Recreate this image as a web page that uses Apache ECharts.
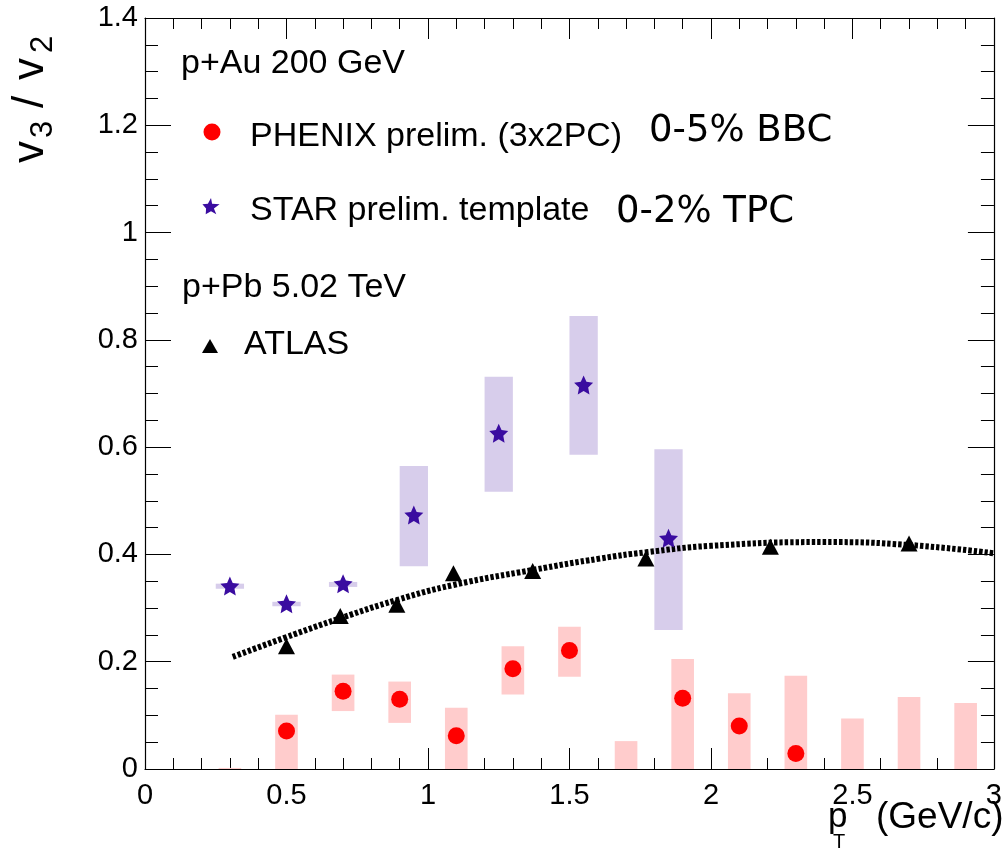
<!DOCTYPE html>
<html>
<head>
<meta charset="utf-8">
<script src="https://cdn.jsdelivr.net/npm/echarts@6/dist/echarts.min.js"></script>
<style>
html,body{margin:0;padding:0;background:#fff;}
#chart{width:1005px;height:864px;}
</style>
</head>
<body>
<div id="chart"></div>
<script>
// ---- data ----
const xTicks = [0, 0.5, 1, 1.5, 2, 2.5, 3];
const yTicks = [0, 0.2, 0.4, 0.6, 0.8, 1, 1.2, 1.4];

// PHENIX prelim. (3x2PC), 0-5% BBC
const phenixX     = [0.3, 0.5, 0.7, 0.9, 1.1, 1.3, 1.5, 1.7, 1.9, 2.1, 2.3, 2.5, 2.7, 2.9];
const phenixY     = [null, 0.071, 0.145, 0.130, 0.062, 0.187, 0.221, null, 0.132, 0.080, 0.029, null, null, null];
const phenixSysLo = [-0.05, 0, 0.108, 0.086, 0, 0.139, 0.172, 0, 0, 0, 0, 0, 0, 0];
const phenixSysHi = [0.002, 0.101, 0.176, 0.163, 0.114, 0.229, 0.265, 0.052, 0.205, 0.141, 0.174, 0.094, 0.134, 0.123];

// STAR prelim. template, 0-2% TPC
const starX     = [0.3, 0.5, 0.7, 0.95, 1.25, 1.55, 1.85];
const starY     = [0.341, 0.308, 0.3455, 0.4735, 0.626, 0.716, 0.430];
const starSysLo = [0.336, 0.3034, 0.3394, 0.378, 0.517, 0.586, 0.259];
const starSysHi = [0.3455, 0.3117, 0.3487, 0.565, 0.731, 0.8445, 0.596];

// ATLAS p+Pb 5.02 TeV
const atlasX = [0.5, 0.69, 0.89, 1.09, 1.37, 1.77, 2.21, 2.70];
const atlasY = [0.229, 0.285, 0.306, 0.365, 0.369, 0.3925, 0.4145, 0.4206];

// dashed curve through ATLAS points
const fitX = [0.31, 0.49, 0.69, 0.89, 1.09, 1.37, 1.61, 1.77, 2.0, 2.4, 2.7, 3.0];
const fitY = [0.209, 0.244, 0.281, 0.315, 0.343, 0.371, 0.3925, 0.404, 0.416, 0.423, 0.4176, 0.402];

// ---- build ----
const zip = (a, b) => a.map((v, i) => [v, b[i]]);
const phenixPts = zip(phenixX, phenixY).filter(d => d[1] !== null);
const phenixBoxes = phenixX.map((x, i) => [x, phenixSysLo[i], phenixSysHi[i]]);
const starPts = zip(starX, starY);
const starBoxes = starX.map((x, i) => [x, starSysLo[i], starSysHi[i]]);
const atlasPts = zip(atlasX, atlasY);
const fitPts = zip(fitX, fitY);

const STAR = 'path://M50,0 L64.1,30.6 L97.6,34.5 L72.8,57.4 L79.4,90.5 L50,74 L20.6,90.5 L27.2,57.4 L2.4,34.5 L35.9,30.6 Z';
const FONT = 'Liberation Sans';
const STAR_COLOR = '#3a0ca0';

function boxRenderer(halfWidth, color) {
  return function (params, api) {
    const x = api.value(0), lo = api.value(1), hi = api.value(2);
    const p1 = api.coord([x - halfWidth, hi]);
    const p2 = api.coord([x + halfWidth, lo]);
    const shape = echarts.graphic.clipRectByRect(
      { x: p1[0], y: p1[1], width: p2[0] - p1[0], height: p2[1] - p1[1] },
      { x: params.coordSys.x, y: params.coordSys.y, width: params.coordSys.width, height: params.coordSys.height }
    );
    return shape && { type: 'rect', shape: shape, style: { fill: color } };
  };
}

const axisCommon = {
  type: 'value',
  axisLine: { show: true, onZero: false, lineStyle: { color: '#000', width: 1.2 } },
  splitLine: { show: false },
};

const chart = echarts.init(document.getElementById('chart'), null, { renderer: 'canvas' });
chart.setOption({
  animation: false,
  backgroundColor: '#fff',
  grid: { left: 145, top: 18, right: 10, bottom: 95 },
  xAxis: [
    Object.assign({}, axisCommon, {
      min: xTicks[0], max: xTicks[xTicks.length - 1], interval: 0.5, position: 'bottom',
      axisTick: { inside: true, length: 21, lineStyle: { color: '#000' } },
      minorTick: { show: true, splitNumber: 5, length: 11, lineStyle: { color: '#000' } },
      axisLabel: { fontFamily: FONT, fontSize: 29, color: '#000', margin: 12 }
    }),
    Object.assign({}, axisCommon, {
      min: xTicks[0], max: xTicks[xTicks.length - 1], interval: 0.5, position: 'top',
      axisTick: { inside: true, length: 21, lineStyle: { color: '#000' } },
      minorTick: { show: true, splitNumber: 5, length: 11, lineStyle: { color: '#000' } },
      axisLabel: { show: false }
    })
  ],
  yAxis: [
    Object.assign({}, axisCommon, {
      min: yTicks[0], max: yTicks[yTicks.length - 1], interval: 0.2, position: 'left',
      axisTick: { inside: true, length: 26, lineStyle: { color: '#000' } },
      minorTick: { show: true, splitNumber: 4, length: 13, lineStyle: { color: '#000' } },
      axisLabel: { fontFamily: FONT, fontSize: 29, color: '#000', margin: 7, padding: [6, 0, 0, 0] }
    }),
    Object.assign({}, axisCommon, {
      min: yTicks[0], max: yTicks[yTicks.length - 1], interval: 0.2, position: 'right',
      axisTick: { inside: true, length: 26, lineStyle: { color: '#000' } },
      minorTick: { show: true, splitNumber: 4, length: 13, lineStyle: { color: '#000' } },
      axisLabel: { show: false }
    })
  ],
  series: [
    { type: 'custom', name: 'PHENIX sys', renderItem: boxRenderer(0.04, '#ffcccc'), data: phenixBoxes, z: 1, clip: true },
    { type: 'custom', name: 'STAR sys', renderItem: boxRenderer(0.05, '#d7cdeb'), data: starBoxes, z: 1, clip: true },
    { type: 'line', name: 'fit', data: fitPts, smooth: true, showSymbol: false, symbol: 'none', z: 3,
      lineStyle: { color: '#000', width: 6, type: [3.4, 2] } },
    { type: 'scatter', name: 'ATLAS', data: atlasPts, symbol: 'triangle', symbolSize: [17, 16],
      itemStyle: { color: '#000', opacity: 1 }, z: 4 },
    { type: 'scatter', name: 'STAR prelim. template', data: starPts, symbol: STAR, symbolSize: 19,
      itemStyle: { color: STAR_COLOR, opacity: 1 }, z: 5 },
    { type: 'scatter', name: 'PHENIX prelim. (3x2PC)', data: phenixPts, symbol: 'circle', symbolSize: 17,
      itemStyle: { color: '#ff0000', opacity: 1 }, z: 5 }
  ],
  graphic: [
    // legend / labels
    { type: 'text', left: 181, top: 47, style: { text: 'p+Au 200 GeV', font: '34px "Liberation Sans"', fill: '#000' } },
    { type: 'circle', shape: { cx: 212, cy: 132, r: 8.5 }, style: { fill: '#ff0000' } },
    { type: 'text', left: 250, top: 120, style: { text: 'PHENIX prelim. (3x2PC)', font: '34px "Liberation Sans"', fill: '#000' } },
    { type: 'text', left: 649, top: 113, style: { text: '0-5% BBC', font: '37px "DejaVu Sans"', fill: '#000' } },
    { type: 'polygon', shape: { points: [[211,198],[212.1,203.8],[219.6,204.2],[213.9,208.4],[216.3,214.2],[211,211.3],[205.7,214.2],[206.1,208.4],[202.4,204.2],[207.9,203.8]] }, style: { fill: STAR_COLOR } },
    { type: 'text', left: 250, top: 194, style: { text: 'STAR prelim. template', font: '34px "Liberation Sans"', fill: '#000' } },
    { type: 'text', left: 616, top: 194, style: { text: '0-2% TPC', font: '37px "DejaVu Sans"', fill: '#000' } },
    { type: 'text', left: 182, top: 271, style: { text: 'p+Pb 5.02 TeV', font: '34px "Liberation Sans"', fill: '#000' } },
    { type: 'polygon', shape: { points: [[210,339],[218,353],[202,353]] }, style: { fill: '#000' } },
    { type: 'text', left: 244, top: 328, style: { text: 'ATLAS', font: '34px "Liberation Sans"', fill: '#000' } },
    // x axis title
    { type: 'text', left: 828, top: 800, style: { text: 'p', font: '35px "Liberation Sans"', fill: '#000' } },
    { type: 'text', left: 833, top: 832, style: { text: 'T', font: '20px "Liberation Sans"', fill: '#000' } },
    { type: 'text', left: 876, top: 799, style: { text: '(GeV/c)', font: '37px "Liberation Sans"', fill: '#000' } },
    // y axis title (rotated)
    { type: 'group', x: 45, y: 163, rotation: Math.PI / 2, children: [
      { type: 'text', x: 0, y: -14.5, style: { text: 'v', font: '44px "Liberation Sans"', fill: '#000', verticalAlign: 'middle' } },
      { type: 'text', x: 25, y: -2, style: { text: '3', font: '31px "Liberation Sans"', fill: '#000', verticalAlign: 'middle' } },
      { type: 'text', x: 55, y: -14.5, style: { text: '/', font: '44px "Liberation Sans"', fill: '#000', verticalAlign: 'middle' } },
      { type: 'text', x: 83, y: -14.5, style: { text: 'v', font: '44px "Liberation Sans"', fill: '#000', verticalAlign: 'middle' } },
      { type: 'text', x: 110, y: -2, style: { text: '2', font: '31px "Liberation Sans"', fill: '#000', verticalAlign: 'middle' } }
    ] }
  ]
});
</script>
</body>
</html>
